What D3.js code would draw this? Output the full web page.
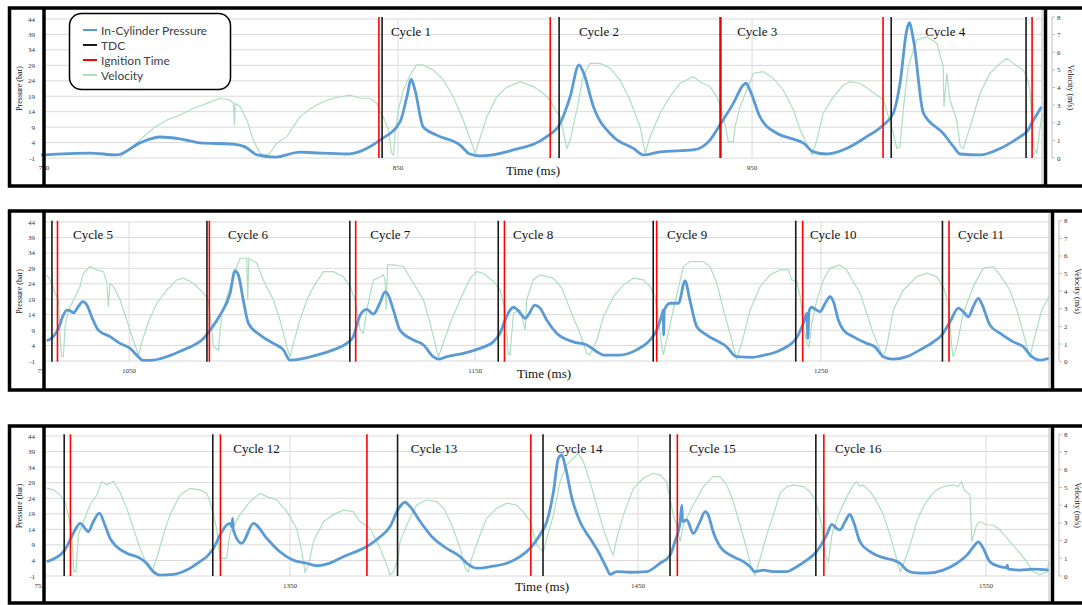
<!DOCTYPE html>
<html>
<head>
<meta charset="utf-8">
<script src="https://cdn.jsdelivr.net/npm/d3@7/dist/d3.min.js"></script>
<style>
  body { margin: 0; background: #fff; }
</style>
</head>
<body>
<div id="viz"></div>
<script>
// ---- values: [time (ms), value] ----
const pressureTicks = [-1, 4, 9, 14, 19, 24, 29, 34, 39, 44]
const velocityTicks = [0, 1, 2, 3, 4, 5, 6, 7, 8]

const xRange1 = [750, 1031.9]
const xRange2 = [1025.4, 1315.9]
const xRange3 = [1279.3, 1568.1]
const xTicks1 = [850, 950]
const xTicks2 = [1050, 1150, 1250]
const xTicks3 = [1350, 1450, 1550]

const tdc1 = [845.5, 895.5, 941.0, 989.3, 1027.4]
const ignition1 = [844.6, 893.0, 941.2, 987.0, 1029.1]
const tdc2 = [1027.7, 1072.5, 1113.8, 1156.7, 1201.5, 1242.7, 1285.1]
const ignition2 = [1029.3, 1073.2, 1115.5, 1158.5, 1202.5, 1244.7, 1287.0]
const tdc3 = [1285.1, 1327.8, 1380.9, 1422.7, 1459.2, 1501.1]
const ignition3 = [1286.9, 1330.0, 1372.1, 1419.2, 1461.3, 1503.4]

const cycleNames1 = ["Cycle 1", "Cycle 2", "Cycle 3", "Cycle 4"]
const cycleAt1 = [848.0, 901.1, 945.8, 998.9]
const cycleNames2 = ["Cycle 5", "Cycle 6", "Cycle 7", "Cycle 8", "Cycle 9", "Cycle 10", "Cycle 11"]
const cycleAt2 = [1033.8, 1078.6, 1119.7, 1161.0, 1205.5, 1246.8, 1289.6]
const cycleNames3 = ["Cycle 12", "Cycle 13", "Cycle 14", "Cycle 15", "Cycle 16"]
const cycleAt3 = [1333.7, 1384.7, 1426.4, 1464.7, 1506.6]

const pressure1 = [[749.2,0.0],[763,0.6],[770.6,0.0],[777.1,3.9],[782.8,5.8],[788.4,5.2],[794.1,3.9],[803.4,3.5],[806.8,2.6],[810.2,0.0],[815.3,-0.7],[822.3,0.9],[826.1,0.7],[835.5,0.3],[844.9,4.8],[850.6,10.8],[852.5,18.8],[853.7,24.5],[854.8,21.0],[857.1,9.1],[860.9,6.4],[867.5,3.2],[870.3,0.3],[873.2,-0.3],[882.6,1.6],[892.0,5.9],[895.8,10.2],[898.6,18.8],[901.1,29.1],[902.3,26.9],[905.2,15.6],[910.8,5.9],[916.5,2.1],[919.3,0.0],[924.0,1.0],[933.4,1.6],[938.1,4.8],[940.9,9.7],[944.7,16.7],[947.5,22.6],[948.3,23.2],[949.4,21.0],[952.2,12.4],[957.0,7.0],[961.7,5.1],[964.5,3.8],[967.3,1.0],[971.1,0.3],[976.7,2.1],[982.4,5.9],[987.1,9.7],[989.9,13.5],[991.8,23.2],[993.7,40.4],[994.4,42.8],[995.6,37.2],[998.4,13.5],[1004.0,7.0],[1006.9,2.7],[1008.8,0.3],[1014.4,0.0],[1020.1,2.1],[1025.7,5.9],[1027.6,7.5],[1029.5,11.3],[1031.8,15.6]]

const velocity1 = [[771.5,0.07],[775.2,0.64],[778.1,1.21],[780.9,1.69],[784.7,2.16],[788.4,2.44],[792.2,2.82],[796.0,3.10],[799.7,3.39],[802.5,3.29],[803.5,3.10],[803.8,1.87],[804.0,3.10],[805.4,2.91],[807.3,2.16],[809.1,1.02],[811.0,0.27],[812.4,0.17],[813.8,0.27],[815.7,0.83],[818.6,1.21],[822.3,2.35],[826.1,2.91],[828.9,3.19],[831.7,3.39],[836.4,3.57],[839.3,3.39],[842.1,3.39],[844.0,3.10],[844.9,2.63],[845.8,2.34],[847.3,1.59],[848.2,0.27],[848.7,0.17],[849.2,1.40],[850.1,2.72],[851.5,3.86],[853.4,4.71],[855.3,5.28],[857.1,5.28],[860.0,4.99],[862.8,4.43],[865.6,3.48],[868.4,2.16],[870.8,0.83],[871.8,0.27],[872.7,0.83],[875.1,2.34],[877.9,3.48],[880.7,4.01],[884.5,4.33],[888.2,4.05],[891.0,3.67],[892.9,3.29],[893.9,2.91],[895.8,2.34],[897.7,0.55],[898.6,1.02],[900.5,2.72],[902.3,4.61],[904.2,5.37],[907.1,5.37],[909.9,5.09],[912.7,4.43],[915.5,3.29],[918.4,1.78],[919.8,0.27],[921.2,1.21],[924.0,2.54],[926.8,3.48],[929.7,4.24],[931.5,4.43],[933.4,4.61],[935.3,4.33],[938.1,4.05],[940.0,3.48],[940.9,3.10],[941.9,2.34],[942.8,1.49],[943.3,0.92],[944.7,0.92],[945.2,1.78],[946.6,2.91],[948.5,3.86],[950.4,4.81],[953.2,4.90],[956.0,4.52],[958.8,3.86],[961.7,2.72],[963.6,1.59],[965.4,0.83],[966.9,0.17],[968.3,1.02],[970.1,2.54],[973.0,3.48],[975.8,4.14],[977.7,4.33],[980.5,4.24],[983.3,3.86],[987.1,3.29],[988.0,2.72],[989.9,1.40],[990.9,0.55],[991.8,0.64],[992.7,2.72],[994.1,5.18],[996.5,6.70],[999.3,6.88],[1002.2,6.51],[1004.0,5.18],[1004.2,2.91],[1005.0,4.81],[1005.9,3.29],[1007.8,2.16],[1008.8,0.64],[1009.7,0.55],[1011.6,1.78],[1014.4,3.67],[1017.2,4.81],[1020.1,5.37],[1021.9,5.66],[1023.8,5.37],[1026.6,4.99],[1027.6,4.61],[1028.5,3.86],[1029.5,0.64],[1030.4,0.27],[1031.4,1.78],[1031.9,2.54]]

const pressure2 = [[1026.2,5.6],[1028.1,6.9],[1029.6,9.6],[1031.0,13.9],[1032.0,15.5],[1032.9,15.3],[1033.9,14.6],[1035.3,16.6],[1036.6,18.2],[1037.8,17.1],[1039.2,13.3],[1041.1,9.0],[1044.5,6.9],[1047.4,4.7],[1050.3,3.1],[1052.2,0.9],[1054.1,-0.8],[1057.0,-0.7],[1060.9,0.4],[1065.7,2.6],[1069.6,4.7],[1071.5,6.3],[1073.4,9.0],[1076.3,13.9],[1079.2,20.9],[1080.6,28.2],[1081.6,26.8],[1083.0,18.7],[1084.5,11.2],[1087.9,7.4],[1091.7,4.7],[1094.6,2.6],[1096.5,-0.7],[1099.4,-0.4],[1104.2,0.9],[1109.0,2.6],[1112.9,4.7],[1114.8,6.9],[1116.8,13.9],[1118.7,15.7],[1120.6,14.2],[1122.5,17.8],[1124.0,21.4],[1124.9,20.4],[1126.4,15.5],[1128.3,9.0],[1132.2,5.8],[1135.1,4.2],[1137.9,0.4],[1139.4,-0.4],[1141.8,0.4],[1146.6,1.5],[1151.4,3.1],[1155.3,5.2],[1157.2,8.0],[1158.7,12.3],[1160.1,15.5],[1161.1,16.4],[1162.1,15.7],[1163.5,13.9],[1164.5,12.8],[1165.4,13.9],[1167.3,17.1],[1168.8,16.1],[1170.7,12.3],[1173.6,8.0],[1178.4,5.2],[1182.3,4.2],[1185.2,2.0],[1187.1,0.9],[1191.9,0.9],[1196.7,2.6],[1200.6,5.8],[1202.5,9.0],[1204.0,13.9],[1204.4,15.5],[1204.5,7.4],[1204.7,15.5],[1206.4,17.7],[1208.8,17.7],[1210.7,24.9],[1212.1,18.7],[1214.1,10.1],[1217.0,7.4],[1222.7,3.6],[1225.6,0.4],[1230.4,0.2],[1232.4,0.6],[1237.2,2.0],[1240.1,3.6],[1242.0,5.2],[1243.4,7.4],[1244.9,11.2],[1245.9,14.4],[1246.2,6.3],[1246.5,15.0],[1247.3,16.4],[1248.7,15.5],[1249.7,15.0],[1251.2,17.7],[1252.6,19.8],[1253.6,18.2],[1255.0,12.3],[1256.5,9.0],[1259.3,6.9],[1263.2,4.7],[1265.6,3.6],[1268.0,0.4],[1270.9,-0.4],[1274.8,0.4],[1278.6,2.6],[1282.5,5.2],[1284.9,7.4],[1287.3,11.7],[1289.7,16.1],[1291.1,15.0],[1292.6,13.3],[1294.0,16.6],[1295.5,19.3],[1296.4,17.7],[1298.8,10.7],[1301.7,8.0],[1305.6,5.2],[1308.5,3.6],[1310.9,0.4],[1313.3,-0.7],[1315.9,-0.1]]

const velocity2 = [[1026.2,4.93],[1027.7,4.45],[1028.6,3.89],[1029.6,3.51],[1030.1,1.23],[1030.5,0.28],[1031.0,0.28],[1031.5,1.99],[1032.5,2.94],[1034.4,3.69],[1035.8,4.26],[1036.8,5.02],[1038.7,5.40],[1040.7,5.21],[1042.6,5.11],[1043.6,4.45],[1044.0,3.13],[1044.5,4.45],[1045.5,4.26],[1047.4,3.51],[1049.3,2.37],[1051.2,1.23],[1052.7,0.38],[1053.7,1.14],[1055.6,2.27],[1058.0,3.32],[1060.9,4.07],[1063.8,4.64],[1065.7,4.74],[1068.6,4.45],[1071.5,3.89],[1072.9,3.51],[1073.9,1.80],[1074.4,0.85],[1075.8,0.66],[1076.8,2.75],[1079.2,4.26],[1081.1,5.40],[1082.1,5.87],[1084.0,5.87],[1084.3,3.51],[1084.6,5.87],[1086.9,5.59],[1088.8,4.64],[1091.7,3.51],[1093.6,2.37],[1095.6,0.85],[1096.5,0.28],[1097.5,1.05],[1099.4,2.37],[1101.4,3.51],[1103.3,4.26],[1106.2,5.11],[1109.0,5.11],[1111.9,4.83],[1113.9,4.26],[1115.3,3.51],[1116.8,1.80],[1117.7,1.61],[1118.7,2.94],[1120.6,4.64],[1122.5,4.79],[1123.5,4.93],[1124.0,4.64],[1124.3,2.94],[1124.7,5.49],[1126.4,5.49],[1129.3,5.40],[1132.2,4.45],[1135.1,3.51],[1137.0,2.18],[1138.4,1.05],[1139.4,0.28],[1140.8,1.05],[1142.8,2.18],[1145.7,3.51],[1148.6,4.74],[1150.5,5.11],[1152.4,5.02],[1155.3,4.55],[1157.2,4.07],[1158.7,2.94],[1159.6,0.48],[1160.1,0.38],[1161.1,2.75],[1163.0,2.94],[1164.5,1.80],[1164.9,3.51],[1166.8,4.64],[1168.8,4.93],[1170.7,4.83],[1172.6,4.74],[1175.1,4.17],[1177.5,2.94],[1180.3,1.61],[1182.3,0.48],[1183.2,0.38],[1185.2,1.23],[1187.1,2.56],[1190.0,3.69],[1192.9,4.36],[1195.8,4.74],[1198.6,4.64],[1200.6,4.26],[1202.0,3.69],[1203.0,2.37],[1204.0,0.85],[1204.4,0.38],[1205.4,1.23],[1207.3,2.94],[1210.2,5.40],[1212.1,5.68],[1216.0,5.68],[1217.9,5.40],[1219.9,4.45],[1221.8,2.94],[1223.7,1.61],[1225.6,0.19],[1227.1,1.05],[1229.5,2.94],[1232.4,4.26],[1235.3,4.93],[1238.2,5.21],[1240.6,5.21],[1241.5,4.64],[1243.0,4.55],[1244.0,3.69],[1244.9,1.99],[1245.9,1.05],[1246.6,0.85],[1247.3,2.18],[1248.8,3.51],[1250.7,4.64],[1252.6,5.31],[1255.5,5.49],[1257.4,5.21],[1259.3,4.55],[1261.3,3.89],[1263.2,2.75],[1265.1,1.61],[1267.1,0.66],[1268.0,0.28],[1269.0,0.85],[1270.9,2.94],[1273.8,4.07],[1277.7,4.83],[1280.5,5.02],[1283.4,4.83],[1285.3,4.26],[1286.8,3.32],[1287.8,0.85],[1288.2,0.28],[1289.2,0.85],[1291.1,2.75],[1294.0,4.26],[1296.9,5.31],[1299.8,5.40],[1301.7,4.93],[1304.6,4.07],[1306.6,2.94],[1308.0,1.99],[1309.5,0.85],[1310.4,0.28],[1311.8,1.42],[1313.8,2.94],[1315.9,3.69]]

const pressure3 = [[1280.1,3.6],[1282.0,4.5],[1283.9,5.7],[1285.3,7.4],[1286.8,10.6],[1288.2,13.8],[1289.7,15.9],[1291.1,14.3],[1292.0,13.2],[1293.5,16.5],[1295.2,19.2],[1296.8,15.4],[1298.3,11.1],[1300.2,8.4],[1303.1,6.3],[1306.9,4.7],[1308.8,3.1],[1310.7,0.4],[1312.6,-0.7],[1316.5,-0.5],[1320.3,0.9],[1324.1,3.6],[1326.5,5.7],[1328.0,7.9],[1329.9,12.2],[1331.8,15.4],[1332.8,15.9],[1333.3,14.8],[1333.5,17.5],[1333.7,13.8],[1336.1,9.5],[1339.5,15.9],[1343.3,11.1],[1347.1,6.8],[1350.9,4.1],[1354.8,3.1],[1357.7,2.3],[1360.5,2.8],[1365.3,5.2],[1370.1,7.4],[1372.0,8.4],[1375.9,11.6],[1378.7,14.8],[1381.1,20.5],[1383.0,22.7],[1384.5,21.3],[1387.4,16.5],[1391.2,11.1],[1395.0,7.9],[1398.9,5.2],[1400.8,3.1],[1403.7,1.5],[1407.5,2.0],[1412.3,3.1],[1416.1,5.2],[1419.0,7.9],[1421.8,12.2],[1423.8,16.5],[1425.7,26.1],[1427.1,36.8],[1428.1,37.9],[1429.0,34.7],[1431.0,24.0],[1433.3,16.5],[1436.2,11.1],[1438.6,6.8],[1441.0,1.5],[1442.0,-0.5],[1443.9,0.4],[1447.7,0.2],[1452.5,0.4],[1456.3,3.1],[1459.2,5.7],[1460.6,10.0],[1462.1,16.5],[1462.6,21.8],[1462.8,16.5],[1464.0,17.0],[1465.9,12.7],[1467.8,16.5],[1469.3,19.7],[1470.2,18.6],[1471.6,13.2],[1473.6,8.4],[1477.4,5.2],[1480.3,3.6],[1482.2,2.0],[1483.6,0.4],[1486.0,0.9],[1488.9,0.4],[1492.7,0.4],[1495.6,2.0],[1498.5,4.1],[1500.9,6.3],[1502.3,8.4],[1504.2,12.2],[1505.7,15.6],[1507.1,14.3],[1508.0,13.8],[1509.5,16.5],[1510.9,18.8],[1511.9,16.5],[1513.8,10.0],[1516.7,6.8],[1520.5,4.9],[1523.4,4.1],[1525.3,3.1],[1527.2,0.9],[1529.1,0.1],[1533.0,-0.1],[1537.7,0.9],[1541.6,3.1],[1544.5,5.7],[1546.4,8.4],[1547.8,10.0],[1549.2,7.9],[1551.1,3.6],[1554.0,2.0],[1555.9,1.7],[1556.1,2.5],[1556.4,1.2],[1559.8,0.9],[1563.6,1.2],[1568.1,0.9]]

const velocity3 = [[1280.1,4.95],[1282.0,4.86],[1283.9,4.58],[1285.3,4.20],[1286.3,3.45],[1287.3,2.32],[1287.9,0.24],[1288.5,0.24],[1289.2,2.32],[1290.6,3.07],[1292.5,4.01],[1294.5,4.58],[1295.9,5.33],[1297.3,5.14],[1299.2,5.33],[1301.1,4.76],[1303.1,3.82],[1305.0,2.69],[1306.9,1.56],[1308.8,0.62],[1310.3,0.24],[1311.7,1.00],[1313.6,2.32],[1315.5,3.45],[1318.4,4.58],[1321.3,4.95],[1324.1,4.86],[1326.1,4.67],[1327.0,4.20],[1328.0,3.45],[1328.9,2.69],[1329.9,1.00],[1331.8,1.00],[1332.8,2.50],[1335.6,3.45],[1338.5,4.20],[1341.4,4.67],[1343.3,4.48],[1346.2,4.29],[1349.1,3.63],[1351.9,2.69],[1353.4,1.37],[1354.3,0.24],[1355.3,0.62],[1356.7,1.94],[1359.6,3.07],[1362.4,3.45],[1365.3,3.73],[1368.2,3.63],[1370.1,3.07],[1373.0,2.69],[1375.9,1.56],[1377.8,0.62],[1378.7,0.06],[1379.7,0.24],[1381.1,1.00],[1381.6,1.94],[1384.0,3.07],[1386.4,4.01],[1389.3,4.29],[1392.2,4.20],[1394.1,3.82],[1396.5,2.88],[1398.9,1.56],[1400.3,0.44],[1401.2,0.24],[1402.2,1.00],[1404.6,2.32],[1406.5,3.26],[1409.4,3.82],[1412.3,4.11],[1415.1,4.01],[1417.0,3.63],[1419.0,3.07],[1420.9,1.75],[1421.8,1.56],[1422.8,1.37],[1423.8,2.13],[1425.7,3.45],[1427.6,5.33],[1429.5,6.27],[1431.4,6.65],[1432.8,6.93],[1434.3,6.46],[1436.2,5.33],[1438.1,4.01],[1440.0,2.69],[1442.0,1.56],[1442.9,1.19],[1443.9,2.13],[1445.8,3.45],[1448.7,4.95],[1451.5,5.52],[1454.4,5.80],[1456.3,5.71],[1458.2,5.33],[1459.2,4.39],[1460.1,3.45],[1461.1,2.88],[1462.1,1.94],[1463.0,2.88],[1465.9,4.01],[1468.8,5.05],[1471.6,5.61],[1473.6,5.61],[1475.5,5.14],[1477.4,4.20],[1479.3,2.88],[1481.2,1.56],[1482.7,0.34],[1483.6,0.06],[1485.1,1.00],[1487.0,2.32],[1488.9,3.45],[1490.8,4.67],[1492.7,5.05],[1494.6,5.14],[1497.5,5.05],[1499.4,4.76],[1500.9,4.29],[1501.8,3.63],[1502.8,2.88],[1503.7,1.19],[1504.7,0.81],[1505.7,2.32],[1507.6,3.45],[1510.0,4.48],[1511.9,5.14],[1512.8,5.33],[1513.8,5.05],[1514.7,5.14],[1516.7,4.76],[1518.6,4.20],[1520.5,3.45],[1522.4,2.32],[1524.3,1.00],[1525.3,0.24],[1526.2,0.62],[1528.2,1.75],[1530.1,3.07],[1532.0,3.92],[1533.9,4.48],[1535.8,4.86],[1537.7,5.05],[1540.6,5.14],[1542.0,5.05],[1543.0,5.33],[1543.7,4.86],[1545.4,4.58],[1545.9,1.94],[1547.3,2.88],[1548.3,3.07],[1550.2,2.88],[1552.2,2.88],[1554.0,2.60],[1556.9,1.94],[1559.8,1.28],[1561.7,0.81],[1563.6,0.24],[1565.5,0.06],[1567.5,0.24],[1568.1,0.81]]

const legendNames = ["In-Cylinder Pressure", "TDC", "Ignition Time", "Velocity"]

// ---- styling / layout ----
const BLUE = "#5b9bd5", GREEN = "#addfbf", BLACK = "#1a1a1a", RED = "#ff0000", GRID = "#d9d9d9"
const SERIF = "'Liberation Serif','DejaVu Serif',serif"
const legendColors = [BLUE, BLACK, RED, GREEN]

const panels = [
    { frameTop: 8, frameBottom: 186, top: 19, bottom: 158, vTop: 17, vBottom: 158,
      left: 44, right: 1042, rightBox: 1045.5, axisR: 1052, titleR: 1068,
      xRange: xRange1, xTicks: xTicks1, firstLabel: "750", firstX: 44, timeX: 533, timeY: 175,
      pressure: pressure1, velocity: velocity1, tdc: tdc1, ignition: ignition1,
      names: cycleNames1, at: cycleAt1, legend: true },
    { frameTop: 211, frameBottom: 390, top: 222, bottom: 361, vTop: 220.7, vBottom: 361.7,
      left: 44, right: 1049, rightBox: 1052.5, axisR: 1059, titleR: 1075,
      xRange: xRange2, xTicks: xTicks2, firstLabel: "75", firstX: 41, timeX: 544, timeY: 378,
      pressure: pressure2, velocity: velocity2, tdc: tdc2, ignition: ignition2,
      names: cycleNames2, at: cycleAt2 },
    { frameTop: 426, frameBottom: 603, top: 436, bottom: 576, vTop: 434.3, vBottom: 576,
      left: 44, right: 1049, rightBox: 1052.5, axisR: 1059, titleR: 1075,
      xRange: xRange3, xTicks: xTicks3, firstLabel: "75", firstX: 38, timeX: 542, timeY: 591,
      pressure: pressure3, velocity: velocity3, tdc: tdc3, ignition: ignition3,
      names: cycleNames3, at: cycleAt3 }
]

const svg = d3.select("#viz").append("svg")
    .attr("width", 1082)
    .attr("height", 605)
svg.append("rect").attr("width", 1082).attr("height", 605).attr("fill", "#fff")

panels.forEach(drawPanel)

function drawPanel(p) {
    const x = d3.scaleLinear().domain(p.xRange).range([p.left, p.right])
    const y = d3.scaleLinear().domain([-1, 44]).range([p.bottom, p.top])
    const yv = d3.scaleLinear().domain([0, 8]).range([p.vBottom, p.vTop])
    const g = svg.append("g")

    // grid
    g.selectAll(".hgrid").data(pressureTicks).enter().append("line")
        .attr("x1", p.left).attr("x2", p.right)
        .attr("y1", d => y(d)).attr("y2", d => y(d))
        .attr("stroke", GRID).attr("stroke-width", 1)
    g.selectAll(".vgrid").data(p.xTicks).enter().append("line")
        .attr("x1", d => x(d)).attr("x2", d => x(d))
        .attr("y1", p.top).attr("y2", p.bottom)
        .attr("stroke", GRID).attr("stroke-width", 1)

    // left axis labels
    g.selectAll(".ylab").data(pressureTicks).enter().append("text")
        .attr("x", 35).attr("y", d => y(d) + 2.5)
        .attr("text-anchor", "end")
        .style("font", "7px " + SERIF).attr("fill", "#333")
        .text(d => d)
    g.append("text")
        .attr("transform", "translate(22," + ((p.top + p.bottom) / 2) + ") rotate(-90)")
        .attr("text-anchor", "middle")
        .style("font", "8px " + SERIF).attr("fill", "#111")
        .text("Pressure (bar)")

    // x tick labels
    g.selectAll(".xlab").data(p.xTicks).enter().append("text")
        .attr("x", d => x(d)).attr("y", p.bottom + 12)
        .attr("text-anchor", "middle")
        .style("font", "7px " + SERIF).attr("fill", "#333")
        .text(d => d)
    g.append("text")
        .attr("x", p.firstX).attr("y", p.bottom + 12)
        .attr("text-anchor", "middle")
        .style("font", "7px " + SERIF).attr("fill", "#333")
        .text(p.firstLabel)
    g.append("text")
        .attr("x", p.timeX).attr("y", p.timeY)
        .attr("text-anchor", "middle")
        .style("font", "13px " + SERIF).attr("fill", "#111")
        .text("Time (ms)")

    // right axis
    g.append("line")
        .attr("x1", p.axisR).attr("x2", p.axisR)
        .attr("y1", p.vTop).attr("y2", p.vBottom)
        .attr("stroke", "#bfbfbf")
    g.selectAll(".vtick").data(velocityTicks).enter().append("line")
        .attr("x1", p.axisR).attr("x2", p.axisR + 3)
        .attr("y1", d => yv(d)).attr("y2", d => yv(d))
        .attr("stroke", "#bfbfbf")
    g.selectAll(".vlab").data(velocityTicks).enter().append("text")
        .attr("x", p.axisR + 5).attr("y", d => yv(d) + 2.5)
        .style("font", "7px " + SERIF).attr("fill", "#333")
        .text(d => d)
    g.append("text")
        .attr("transform", "translate(" + p.titleR + "," + ((p.vTop + p.vBottom) / 2) + ") rotate(90)")
        .attr("text-anchor", "middle")
        .style("font", "8px " + SERIF).attr("fill", "#111")
        .text("Velocity (m/s)")

    // series
    const vline = d3.line().x(d => x(d[0])).y(d => yv(d[1]))
    g.append("path").datum(p.velocity)
        .attr("d", vline)
        .attr("fill", "none").attr("stroke", GREEN).attr("stroke-width", 1.2)

    const pline = d3.line().x(d => x(d[0])).y(d => y(d[1])).curve(d3.curveMonotoneX)
    g.append("path").datum(p.pressure)
        .attr("d", pline)
        .attr("fill", "none").attr("stroke", BLUE).attr("stroke-width", 2.8)
        .attr("stroke-linejoin", "round")

    // events
    g.selectAll(".tdc").data(p.tdc).enter().append("line")
        .attr("x1", d => x(d)).attr("x2", d => x(d))
        .attr("y1", p.vTop).attr("y2", p.vBottom)
        .attr("stroke", BLACK).attr("stroke-width", 1.6)
    g.selectAll(".ign").data(p.ignition).enter().append("line")
        .attr("x1", d => x(d)).attr("x2", d => x(d))
        .attr("y1", p.vTop).attr("y2", p.vBottom)
        .attr("stroke", RED).attr("stroke-width", 1.6)

    // cycle labels
    g.selectAll(".cyc").data(p.names).enter().append("text")
        .attr("x", (d, i) => x(p.at[i])).attr("y", p.top + 17)
        .style("font", "13px " + SERIF).attr("fill", "#111")
        .text(d => d)

    // plot border + black frame boxes
    g.append("line")
        .attr("x1", p.right).attr("x2", p.right)
        .attr("y1", p.frameTop).attr("y2", p.frameBottom)
        .attr("stroke", "#bfbfbf")
    const frame = g.append("g").attr("stroke", "#000").attr("stroke-width", 3.5).attr("fill", "none")
    frame.append("rect")
        .attr("x", 9.5).attr("y", p.frameTop)
        .attr("width", 1100).attr("height", p.frameBottom - p.frameTop)
    frame.append("line").attr("x1", 44).attr("x2", 44).attr("y1", p.frameTop).attr("y2", p.frameBottom)
    frame.append("line").attr("x1", p.rightBox).attr("x2", p.rightBox).attr("y1", p.frameTop).attr("y2", p.frameBottom)

    if (p.legend) drawLegend(g)
}

function drawLegend(g) {
    const lg = g.append("g")
    lg.append("rect")
        .attr("x", 69.5).attr("y", 13.5).attr("width", 161).attr("height", 76)
        .attr("rx", 12).attr("fill", "#fff").attr("stroke", "#000").attr("stroke-width", 1.5)
    legendNames.forEach((name, i) => {
        const cy = 30 + i * 15
        lg.append("line")
            .attr("x1", 83).attr("x2", 97).attr("y1", cy).attr("y2", cy)
            .attr("stroke", legendColors[i]).attr("stroke-width", 2)
        lg.append("text")
            .attr("x", 101).attr("y", cy + 4.5)
            .style("font", "12px Lato, 'Open Sans', sans-serif").attr("fill", "#404040")
            .text(name)
    })
}
</script>
</body>
</html>
